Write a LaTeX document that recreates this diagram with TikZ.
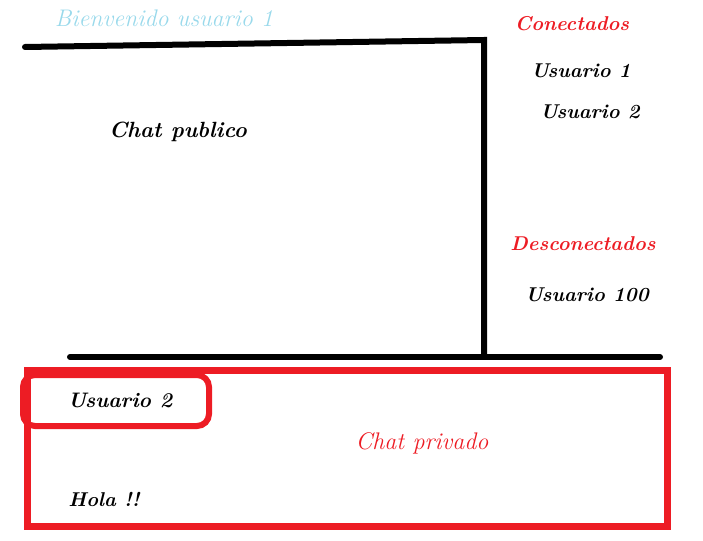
\documentclass[tikz,border=0pt]{standalone}
\usetikzlibrary{positioning}
\definecolor{TitleClr}{rgb}{0.6,0.85,0.92}
\definecolor{AlertClr}{rgb}{0.93,0.11,0.14}
\tikzset{
  mockline/.style={line width=6pt,line cap=round,color=black},
  mocktext/.style={font=\fontsize{20}{24}\selectfont\itshape\bfseries,inner sep=0pt},
  thintext/.style={font=\fontsize{24}{28}\selectfont\itshape,inner sep=0pt},
  boxline/.style={line width=7pt,color=AlertClr}
}

\begin{document}
\begin{tikzpicture}[x=1pt,y=-1pt]
\useasboundingbox (0,0) rectangle (703,540);

\coordinate (TL) at (25,47);
\coordinate (TR) at (484,40);
\coordinate (VB) at (484,355);
\coordinate (BL) at (70,357);
\coordinate (BR) at (660,357);

\draw[mockline] (TL) -- (TR) -- (VB);
\draw[mockline] (BL) -- (BR);

\draw[boxline] (27,370) rectangle (667,526);
\draw[boxline,line width=6pt,rounded corners=12pt] (23,375) rectangle (209,426);

\node[thintext,color=TitleClr] (welcome) at (164,18) {Bienvenido usuario 1};
\node[mocktext,font=\fontsize{22}{26}\selectfont\itshape\bfseries] (public) at (178,132) {Chat publico};

\node[mocktext,color=AlertClr] (online) at (572,24) {Conectados};
\node[mocktext] (user1) at (581,71) {Usuario 1};
\node[mocktext] (user2) at (590,112) {Usuario 2};
\node[mocktext,color=AlertClr] (offline) at (583,244) {Desconectados};
\node[mocktext] (user100) at (587,295) {Usuario 100};

\node[mocktext,font=\fontsize{21}{25}\selectfont\itshape\bfseries] (peer) at (120,400) {Usuario 2};
\node[thintext,color=AlertClr] (private) at (422,443) {Chat privado};
\node[mocktext] (msg) at (104,499) {Hola !!};

\end{tikzpicture}
\end{document}
